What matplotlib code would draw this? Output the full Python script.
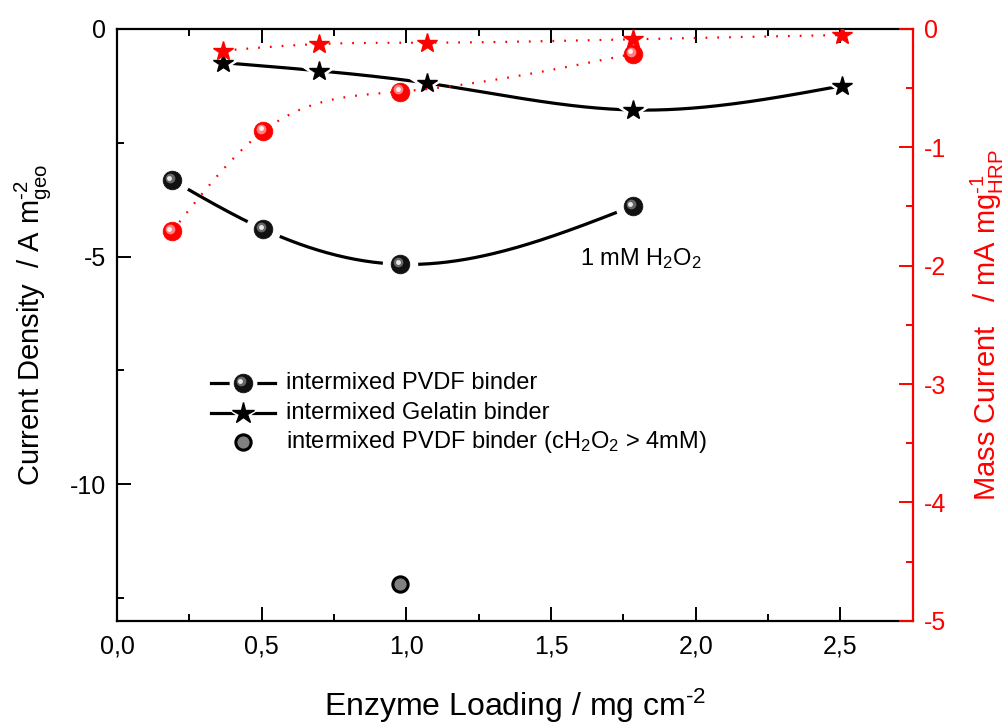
import numpy as np
import matplotlib
matplotlib.use("Agg")
import matplotlib.pyplot as plt
from matplotlib.ticker import MultipleLocator
from matplotlib.transforms import ScaledTranslation

plt.rcParams['font.family'] = ['Liberation Sans', 'DejaVu Sans']
plt.rcParams['mathtext.fontset'] = 'custom'
plt.rcParams['mathtext.rm'] = 'Liberation Sans'
plt.rcParams['mathtext.it'] = 'Liberation Sans:italic'
plt.rcParams['mathtext.bf'] = 'Liberation Sans:bold'

# ---- data ----
pvdf_x = [0.19, 0.506, 0.978, 1.783]
pvdf_cd = [-3.32, -4.40, -5.17, -3.89]
pvdf_mass = [-1.71, -0.862, -0.53, -0.21]

gel_x = [0.366, 0.699, 1.072, 1.783, 2.504]
gel_cd = [-0.74, -0.92, -1.19, -1.78, -1.25]
gel_mass = [-0.183, -0.127, -0.116, -0.087, -0.051]

high_x = [0.977]
high_cd = [-12.2]

xticks = [0.0, 0.5, 1.0, 1.5, 2.0, 2.5]
xtick_labels = ["0,0", "0,5", "1,0", "1,5", "2,0", "2,5"]

legend_labels = ["intermixed PVDF binder", "intermixed Gelatin binder",
                 "intermixed PVDF binder (cH$_2$O$_2$ > 4mM)"]


def natural_spline(x, y, n=200):
    x = np.asarray(x, float)
    y = np.asarray(y, float)
    m = len(x)
    h = np.diff(x)
    A = np.zeros((m, m))
    b = np.zeros(m)
    A[0, 0] = 1
    A[-1, -1] = 1
    for i in range(1, m - 1):
        A[i, i - 1] = h[i - 1]
        A[i, i] = 2 * (h[i - 1] + h[i])
        A[i, i + 1] = h[i]
        b[i] = 3 * ((y[i + 1] - y[i]) / h[i] - (y[i] - y[i - 1]) / h[i - 1])
    c = np.linalg.solve(A, b)
    xs = np.linspace(x[0], x[-1], n)
    ys = np.empty_like(xs)
    for k, xv in enumerate(xs):
        i = min(max(np.searchsorted(x, xv, side='right') - 1, 0), m - 2)
        bi = (y[i + 1] - y[i]) / h[i] - h[i] * (2 * c[i] + c[i + 1]) / 3
        di = (c[i + 1] - c[i]) / (3 * h[i])
        t = xv - x[i]
        ys[k] = y[i] + bi * t + c[i] * t ** 2 + di * t ** 3
    return xs, ys


fig = plt.figure(figsize=(10.07, 7.28), dpi=100)
ax = fig.add_axes([0.1162, 0.1474, 0.7902, 0.8128])
ax2 = ax.twinx()

red = '#ff0000'
ball_ms = 13.5
star_ms = 15


def hl_offset(dx, dy):
    return ScaledTranslation(dx / 72, dy / 72, fig.dpi_scale_trans)


def ball(axis, x, y, face, mid, light, transform=None, ms=ball_ms, z=4):
    tr = transform if transform is not None else axis.transData
    axis.plot(x, y, ls='none', marker='o', ms=ms, mfc=face, mec=face, mew=0.5, zorder=z,
              transform=tr, clip_on=False)
    axis.plot(x, y, ls='none', marker='o', ms=ms * 0.52, mfc=mid, mec='none', zorder=z + 1,
              transform=tr + hl_offset(-1.6, 1.6), clip_on=False)
    axis.plot(x, y, ls='none', marker='o', ms=ms * 0.26, mfc=light, mec='none', zorder=z + 2,
              transform=tr + hl_offset(-1.8, 1.8), clip_on=False)


# black curves
xs, ys = natural_spline(pvdf_x, pvdf_cd)
ax.plot(xs, ys, color='black', lw=2.3, zorder=2)
xs, ys = natural_spline(gel_x, gel_cd)
ax.plot(xs, ys, color='black', lw=2.3, zorder=2)

# gaps around markers
ax.plot(pvdf_x, pvdf_cd, ls='none', marker='o', ms=ball_ms + 11, mfc='white', mec='white', zorder=3)
ax.plot(gel_x, gel_cd, ls='none', marker='*', ms=star_ms + 14, mfc='white', mec='white', zorder=3)

ax.plot(gel_x, gel_cd, ls='none', marker='*', ms=star_ms, mfc='black', mec='black', zorder=4)
ball(ax, pvdf_x, pvdf_cd, '#111111', '#666666', '#e8e8e8')

ax.plot(high_x, high_cd, ls='none', marker='o', ms=11, mfc='#808080', mec='black', mew=2.2, zorder=4)

# red curves
xs, ys = natural_spline(pvdf_x, pvdf_mass)
ax2.plot(xs, ys, color=red, lw=1.6, ls=(0, (0.8, 4.5)), zorder=2)
xs, ys = natural_spline(gel_x, gel_mass)
ax2.plot(xs, ys, color=red, lw=1.6, ls=(0, (0.8, 4.5)), zorder=2)
ax2.plot(gel_x, gel_mass, ls='none', marker='*', ms=star_ms, mfc=red, mec=red, zorder=4)
ball(ax2, pvdf_x, pvdf_mass, red, '#ff8080', '#fff0f0')

# axes limits/ticks
ax.set_xlim(0, 2.75)
ax.set_ylim(-13, 0)
ax2.set_ylim(-5, 0)
ax.set_xticks(xticks)
ax.set_xticklabels(xtick_labels)
ax.xaxis.set_minor_locator(MultipleLocator(0.25))
ax.set_yticks([0, -5, -10])
ax.set_yticklabels(["0", "-5", "-10"])
ax.yaxis.set_minor_locator(MultipleLocator(2.5))
ax2.set_yticks([0, -1, -2, -3, -4, -5])
ax2.set_yticklabels(["0", "-1", "-2", "-3", "-4", "-5"])
ax2.yaxis.set_minor_locator(MultipleLocator(0.5))

for sp in ax.spines.values():
    sp.set_linewidth(1.6)
ax.spines['right'].set_visible(False)
for name, sp in ax2.spines.items():
    sp.set_visible(name == 'right')
ax2.spines['right'].set_color(red)
ax2.spines['right'].set_linewidth(1.6)

ax.tick_params(which='both', direction='in', top=True, right=False, width=1.4, labelsize=18, pad=8)
ax.tick_params(which='major', length=10)
ax.tick_params(which='minor', length=5)
ax.tick_params(axis='x', pad=10)
ax2.tick_params(which='both', direction='in', colors=red, width=1.4, labelsize=18, pad=8)
ax2.tick_params(which='major', length=10)
ax2.tick_params(which='minor', length=5)

ax.set_xlabel("Enzyme Loading / mg cm$^{\\text{-2}}$", fontsize=23, labelpad=20)
ax.set_ylabel("Current Density  / A m$^{\\text{-2}}_{\\rm geo}$", fontsize=21, labelpad=12)
ax2.set_ylabel("Mass Current   / mA mg$^{\\text{-1}}_{\\rm HRP}$", fontsize=21, color=red, labelpad=16)

ax.text(1.6, -5.05, "1 mM H$_2$O$_2$", fontsize=17, ha='left', va='center')

# legend (drawn in axes fraction)
ta = ax.transAxes
rows_y = [0.401, 0.351, 0.302]
lx0, lx1, lxm, ltx = 0.118, 0.1986, 0.1583, 0.2124
kw = dict(transform=ta, clip_on=False)
# row 1
ax.plot([lx0, lx1], [rows_y[0]] * 2, color='black', lw=2.3, zorder=7, **kw)
ax.plot([lxm], [rows_y[0]], ls='none', marker='o', ms=19, mfc='white', mec='white', zorder=8, **kw)
ball(ax, [lxm], [rows_y[0]], '#111111', '#666666', '#e8e8e8', transform=ta, z=9)
# row 2
ax.plot([lx0, lx1], [rows_y[1]] * 2, color='black', lw=2.3, zorder=7, **kw)
ax.plot([lxm], [rows_y[1]], ls='none', marker='*', ms=24, mfc='white', mec='white', zorder=8, **kw)
ax.plot([lxm], [rows_y[1]], ls='none', marker='*', ms=star_ms + 1, mfc='black', mec='black', zorder=9, **kw)
# row 3
ax.plot([lxm], [rows_y[2]], ls='none', marker='o', ms=11, mfc='#808080', mec='black', mew=2.2, zorder=9, **kw)
for yv, lab in zip(rows_y, legend_labels):
    ax.text(ltx, yv, lab, transform=ta, fontsize=17, ha='left', va='center')

fig.savefig("out.png", dpi=100)
